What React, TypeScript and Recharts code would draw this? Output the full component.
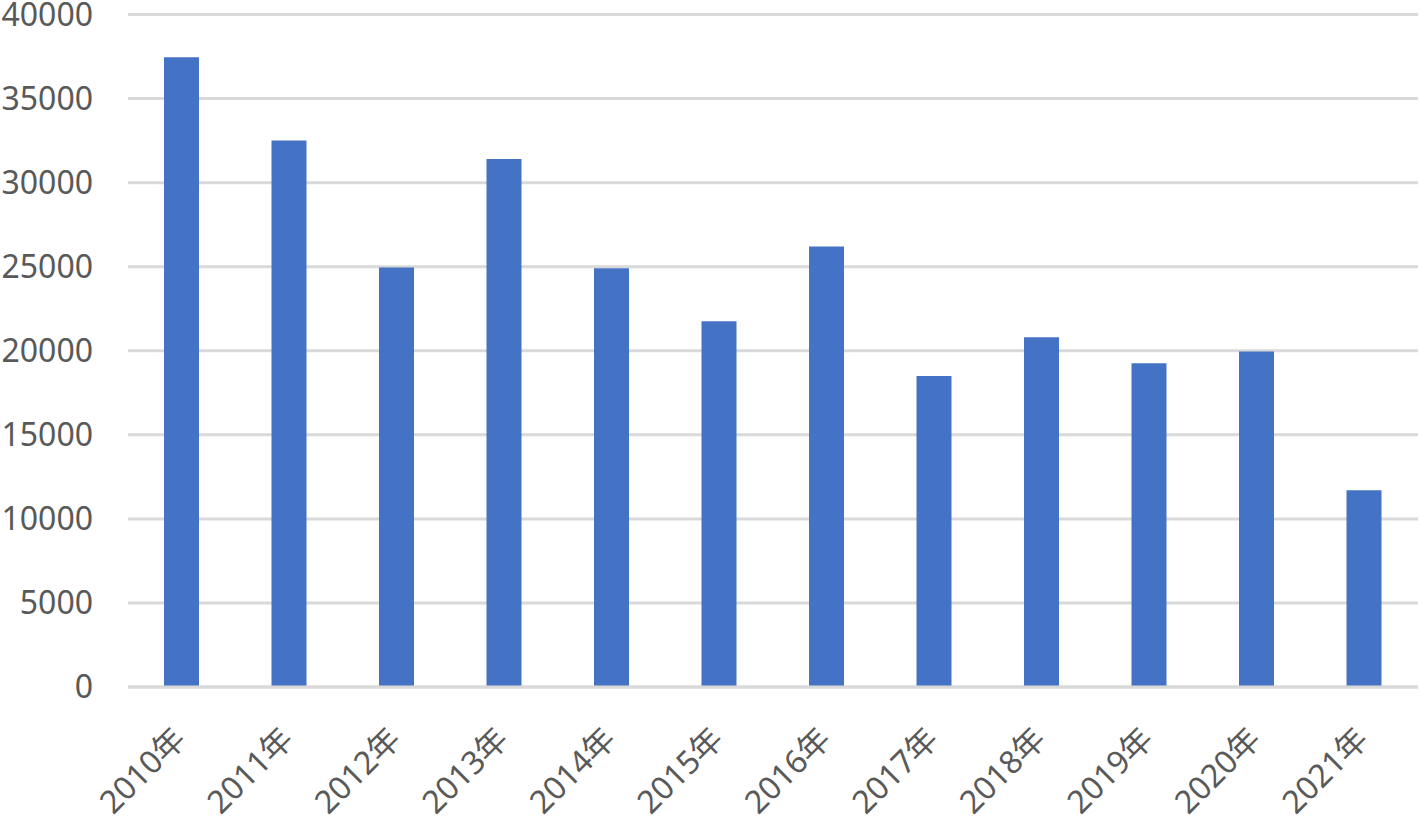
import React from "react";
import { BarChart, Bar, XAxis, YAxis, CartesianGrid } from "recharts";

const categories = ["2010年", "2011年", "2012年", "2013年", "2014年", "2015年", "2016年", "2017年", "2018年", "2019年", "2020年", "2021年"];
const values = [37450, 32500, 24950, 31400, 24900, 21750, 26200, 18500, 20800, 19250, 19950, 11700];
const yTicks = [0, 5000, 10000, 15000, 20000, 25000, 30000, 35000, 40000];

const data = categories.map((c, i) => ({ name: c, value: values[i] }));

const FONT = "'Noto Sans', 'Noto Sans CJK SC', sans-serif";
const TEXT = "#595959";

const XTick = (props: any) => {
  const { x, y, payload } = props;
  return (
    <g transform={`translate(${x + 6},${y + 54})`}>
      <text
        x={0}
        y={0}
        transform="rotate(-45)"
        textAnchor="end"
        fill={TEXT}
        fontSize={32}
        fontFamily={FONT}
      >
        {payload.value}
      </text>
    </g>
  );
};

export default function App() {
  return (
    <div style={{ position: "absolute", left: 0, top: 0 }}>
      <BarChart
        width={1421}
        height={821}
        data={data}
        margin={{ top: 14.5, right: 3, left: 8, bottom: 0 }}
        barCategoryGap={0}
        style={{ overflow: "visible" }}
      >
        <CartesianGrid vertical={false} stroke="#d9d9d9" strokeWidth={3} />
        <XAxis
          dataKey="name"
          height={134}
          tickLine={false}
          tickSize={0}
          tickMargin={0}
          axisLine={{ stroke: "#d9d9d9", strokeWidth: 3 }}
          tick={<XTick />}
          interval={0}
        />
        <YAxis
          width={120}
          domain={[0, 40000]}
          ticks={yTicks}
          tickLine={false}
          axisLine={false}
          tickSize={0}
          tickMargin={35}
          tick={{ fill: TEXT, fontSize: 32, fontFamily: FONT }}
          interval={0}
        />
        <Bar dataKey="value" fill="#4472C4" barSize={35} isAnimationActive={false} />
      </BarChart>
    </div>
  );
}
